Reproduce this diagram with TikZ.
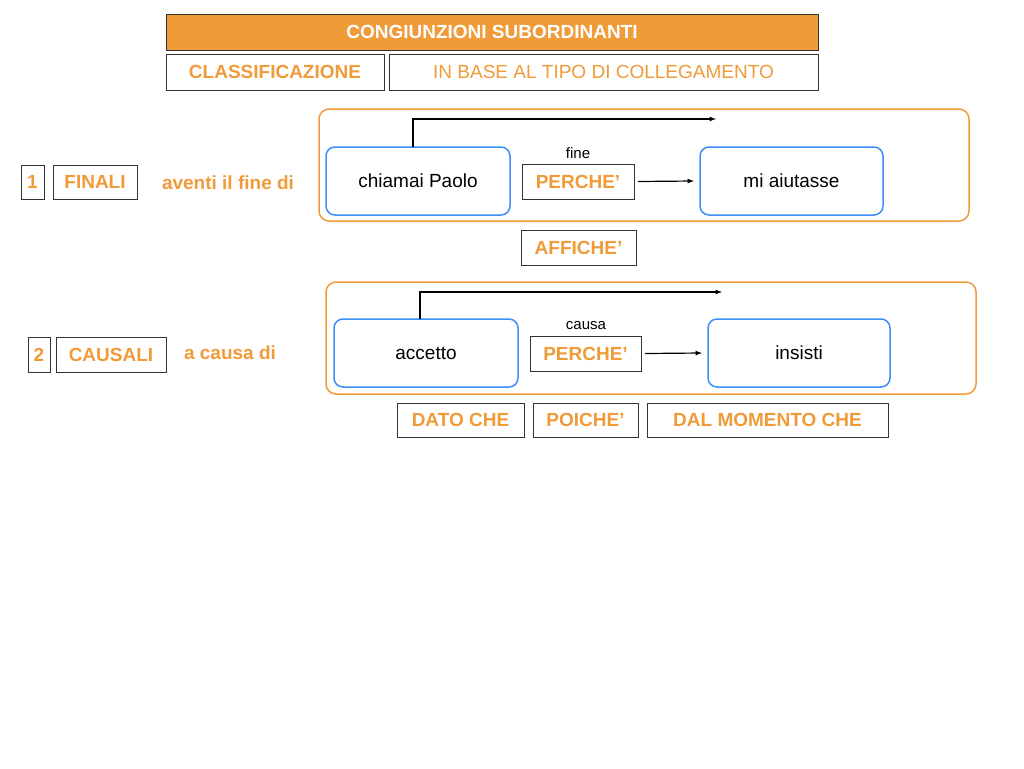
\documentclass[tikz,border=0pt]{standalone}
\usepackage{fontspec}
\setmainfont{Liberation Sans}
\usepackage{tikz}
\usetikzlibrary{calc}
\definecolor{orng}{HTML}{F09A38}
\definecolor{blu}{HTML}{3D8EF7}
\tikzset{
  lbl/.style={draw=black!80, line width=0.6pt, inner sep=0pt, text=orng, font=\fontsize{19}{20}\selectfont\bfseries},
  frase/.style={draw=blu, line width=1.5pt, rounded corners=9pt, minimum width=184pt, minimum height=68pt, font=\fontsize{19}{20}\selectfont},
  gruppo/.style={draw=orng, line width=1.5pt, rounded corners=10pt},
  freccia/.style={-latex, line width=1.2pt}
}
\begin{document}
\begin{tikzpicture}[x=1pt,y=-1pt,inner sep=0pt,outer sep=0pt]
    \useasboundingbox (0,0) rectangle (1024,768);
    % titolo
    \node[draw=black!80, fill=orng, text=white, font=\fontsize{19}{20}\selectfont\bfseries,
      minimum width=652pt, minimum height=36pt] (titolo) at (492,32) {CONGIUNZIONI SUBORDINANTI};
    \node[lbl, minimum width=218pt, minimum height=36pt] (classif) at (275,72) {CLASSIFICAZIONE};
    \node[lbl, font=\fontsize{19}{20}\selectfont, minimum width=429pt, minimum height=36pt] (tipo) at (603.5,72) {IN BASE AL TIPO DI COLLEGAMENTO};

    % finali
    \draw[gruppo] (319,109) rectangle (969,221);
    \node[lbl, minimum width=23pt, minimum height=34pt] (uno) at (32.5,182) {1};
    \node[lbl, minimum width=84pt, minimum height=34pt] (finali) at (95,182) {FINALI};
    \node[text=orng, font=\fontsize{19}{20}\selectfont\bfseries] (fine_di) at (228,183) {aventi il fine di};
    \node[frase] (chiamai) at (418,181) {chiamai Paolo};
    \node[frase, minimum width=183pt] (aiutasse) at (791.5,181) {mi aiutasse};
    \node[lbl, minimum width=112pt, minimum height=35pt] (perche1) at (578,181.5) {PERCHE’};
    \node[font=\fontsize{15}{16}\selectfont] (fine) at (578,153) {fine};
    \coordinate (fine_end) at (716,119);
    \draw[freccia] (perche1.east) ++(4,0) -- ($(aiutasse.west)+(-6,0)$);
    \draw[freccia] (chiamai.north -| 413,0) |- (fine_end);
    \node[lbl, minimum width=115pt, minimum height=35pt] (affiche) at (578.5,247.5) {AFFICHE’};

    % causali
    \draw[gruppo] (326,282) rectangle (976,394);
    \node[lbl, minimum width=22pt, minimum height=35pt] (due) at (39,354.5) {2};
    \node[lbl, minimum width=110pt, minimum height=35pt] (causali) at (111,354.5) {CAUSALI};
    \node[text=orng, font=\fontsize{19}{20}\selectfont\bfseries] (causa_di) at (230,353) {a causa di};
    \node[frase] (accetto) at (426,353) {accetto};
    \node[frase, minimum width=182pt] (insisti) at (799,353) {insisti};
    \node[lbl, minimum width=111pt, minimum height=35pt] (perche2) at (585.5,353.5) {PERCHE’};
    \node[font=\fontsize{15}{16}\selectfont] (causa) at (586,326) {causa};
    \coordinate (causa_end) at (722,292);
    \draw[freccia] (perche2.east) ++(4,0) -- ($(insisti.west)+(-6,0)$);
    \draw[freccia] (accetto.north -| 420,0) |- (causa_end);
    \node[lbl, minimum width=127pt, minimum height=34pt] (dato) at (460.5,420) {DATO CHE};
    \node[lbl, minimum width=105pt, minimum height=34pt] (poiche) at (585.5,420) {POICHE’};
    \node[lbl, minimum width=241pt, minimum height=34pt] (momento) at (767.5,420) {DAL MOMENTO CHE};
\end{tikzpicture}
\end{document}
